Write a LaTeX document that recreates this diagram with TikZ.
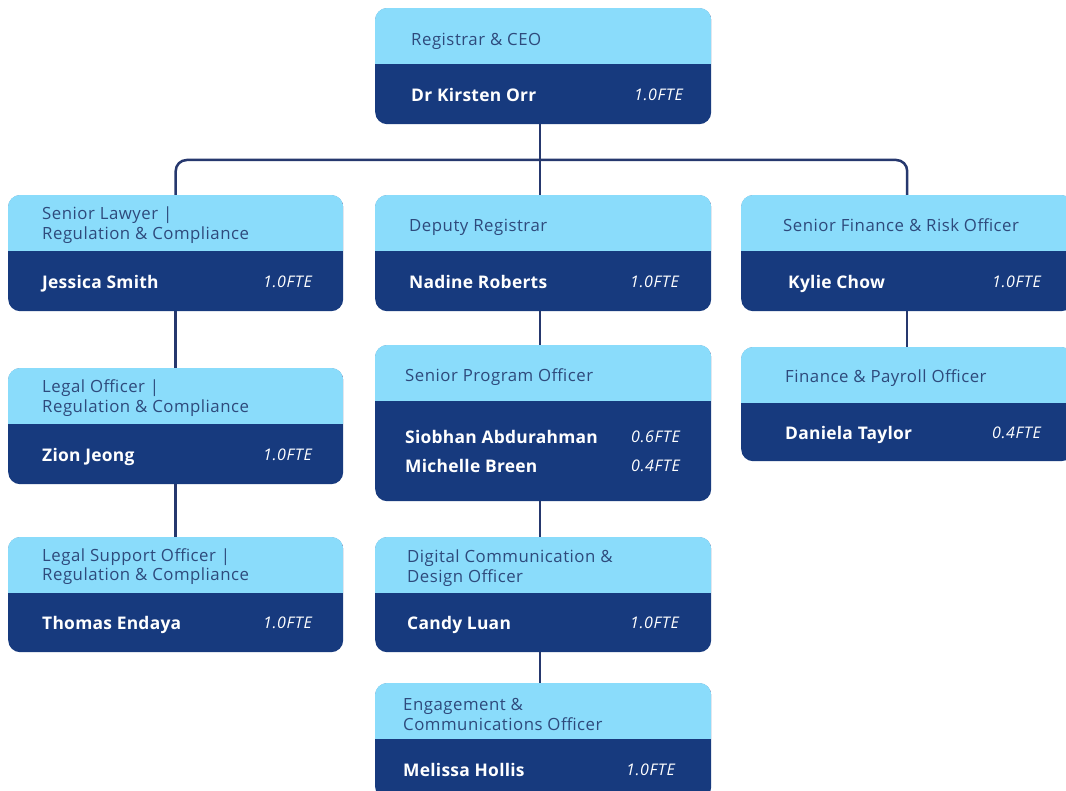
\documentclass[tikz,border=0pt]{standalone}
\usepackage{fontspec}
\setmainfont{Open Sans}
\newfontfamily\hdrfont[LetterSpace=3]{Open Sans}
\newfontfamily\nmfont[LetterSpace=1.5]{Open Sans}
\newfontfamily\ftefont[LetterSpace=4]{Open Sans}
\usetikzlibrary{calc}
\definecolor{lightb}{HTML}{8ADCFB}
\definecolor{darkb}{HTML}{173A7E}
\definecolor{hdrtxt}{HTML}{2E4A7C}
\definecolor{linec}{HTML}{26386E}
\tikzset{
  boxdark/.style={fill=darkb, rounded corners=12pt, inner sep=0pt, draw=none},
  hdr/.style={anchor=west, inner sep=0pt, text=hdrtxt, font=\hdrfont\fontsize{16.8}{19.5}\selectfont, align=left, text height=12pt, text depth=0pt},
  hdrtwo/.style={anchor=west, inner sep=0pt, text=hdrtxt, font=\hdrfont\fontsize{16.8}{19.5}\selectfont, align=left},
  nm/.style={anchor=west, inner sep=0pt, text=white, font=\nmfont\fontsize{17.4}{29}\bfseries\selectfont, align=left, text height=12.4pt, text depth=0pt},
  fte/.style={anchor=east, inner sep=0pt, text=white, font=\ftefont\fontsize{16}{29}\itshape\selectfont, align=right, text height=11.4pt, text depth=0pt},
  conn/.style={draw=linec, line width=2.5pt}
}
\newcommand\orgbox[6]{%
  \node[boxdark, minimum width=#4pt, minimum height=#5pt, anchor=north west] (#1) at (#2,#3) {};
  \begin{scope}
    \clip[rounded corners=12pt] (#1.north west) rectangle (#1.south east);
    \fill[lightb] (#1.north west) rectangle ($(#1.north east)+(0,-#6pt)$);
  \end{scope}
}
\begin{document}
\begin{tikzpicture}[x=1pt,y=-1pt]
\useasboundingbox (0,0) rectangle (1066,791);
\fill[white] (0,0) rectangle (1066,791);
% boxes
\orgbox{ceo}{375}{8}{336}{116}{56}
\orgbox{law}{8}{195}{335}{116}{56}
\orgbox{dep}{375}{195}{336}{116}{56}
\orgbox{fin}{741}{195}{332}{116}{56}
\orgbox{legal}{8}{368}{335}{116}{56}
\orgbox{lso}{8}{537}{335}{115}{56}
\orgbox{spo}{375}{345}{336}{156}{56}
\orgbox{dco}{375}{537}{336}{115}{56}
\orgbox{eco}{375}{683}{336}{116}{56}
\orgbox{fpo}{741}{347}{332}{114}{56}
% connectors
\coordinate (bus) at (540,160);
\draw[conn] (ceo.south -| bus) -- (bus);
\draw[conn] (bus) -- (bus |- dep.north);
\draw[conn, rounded corners=11pt] (law.north) |- (bus) -| (fin.north);
\draw[conn] (law.south) -- (legal.north);
\draw[conn] (legal.south) -- (lso.north);
\draw[conn] (dep.south -| bus) -- (bus |- spo.north);
\draw[conn] (spo.south -| bus) -- (bus |- dco.north);
\draw[conn] (dco.south -| bus) -- (bus |- eco.north);
\draw[conn] (fin.south) -- (fpo.north);
% texts
\node[hdr] (ceo-h) at (411,40) {Registrar \& CEO};
\node[nm] (ceo-n) at (411,95) {Dr Kirsten Orr};
\node[fte] (ceo-f) at (683,95) {1.0FTE};

\node[hdrtwo] (law-h) at (42,225) {Senior Lawyer |\\Regulation \& Compliance};
\node[nm] (law-n) at (42,282) {Jessica Smith};
\node[fte] (law-f) at (312,282) {1.0FTE};

\node[hdr] (dep-h) at (409,226) {Deputy Registrar};
\node[nm] (dep-n) at (409,282) {Nadine Roberts};
\node[fte] (dep-f) at (679,282) {1.0FTE};

\node[hdr] (fin-h) at (783,226) {Senior Finance \& Risk Officer};
\node[nm] (fin-n) at (788,282) {Kylie Chow};
\node[fte] (fin-f) at (1041,282) {1.0FTE};

\node[hdrtwo] (legal-h) at (42,398) {Legal Officer |\\Regulation \& Compliance};
\node[nm] (legal-n) at (42,455) {Zion Jeong};
\node[fte] (legal-f) at (312,455) {1.0FTE};

\node[hdrtwo] (lso-h) at (42,566.5) {Legal Support Officer |\\Regulation \& Compliance};
\node[nm] (lso-n) at (42,623) {Thomas Endaya};
\node[fte] (lso-f) at (312,623) {1.0FTE};

\node[hdr] (spo-h) at (405,376) {Senior Program Officer};
\node[nm] (spo-n1) at (405,437) {Siobhan Abdurahman};
\node[fte] (spo-f1) at (680,437) {0.6FTE};
\node[nm] (spo-n2) at (405,466) {Michelle Breen};
\node[fte] (spo-f2) at (680,466) {0.4FTE};

\node[hdr] (fpo-h) at (785,377) {Finance \& Payroll Officer};
\node[nm] (fpo-n) at (785,433) {Daniela Taylor};
\node[fte] (fpo-f) at (1041,433) {0.4FTE};

\node[hdrtwo] (dco-h) at (407,568) {Digital Communication \&\\Design Officer};
\node[nm] (dco-n) at (407,623) {Candy Luan};
\node[fte] (dco-f) at (679,623) {1.0FTE};

\node[hdrtwo] (eco-h) at (403,714.5) {Engagement \&\\Communications Officer};
\node[nm] (eco-n) at (403,770) {Melissa Hollis};
\node[fte] (eco-f) at (675,770) {1.0FTE};
\end{tikzpicture}
\end{document}
